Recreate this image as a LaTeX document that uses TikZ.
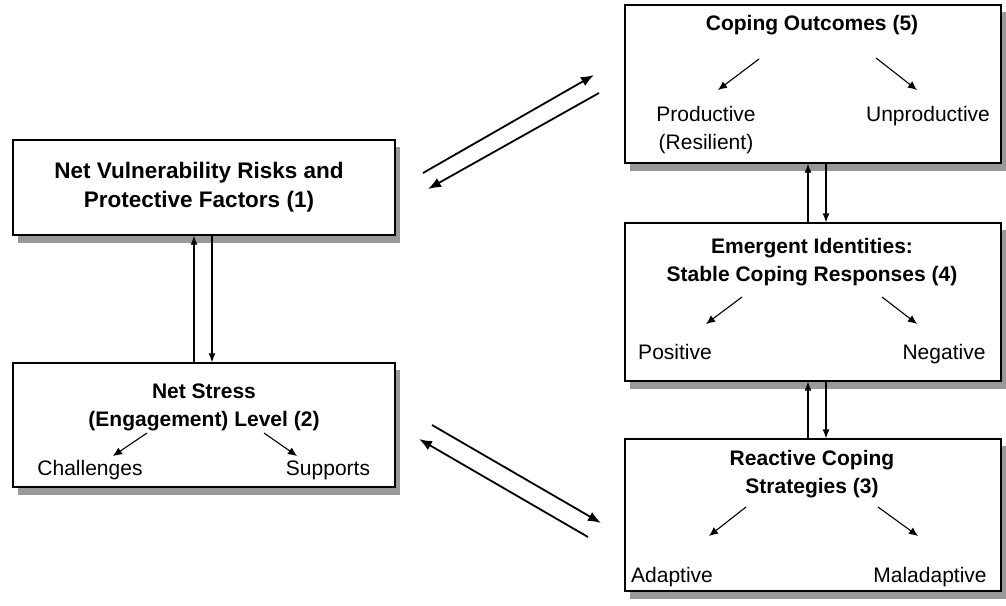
\documentclass[tikz,border=0pt]{standalone}
\usepackage{fontspec}
\setmainfont{Liberation Sans}
\usetikzlibrary{arrows.meta,calc}
\begin{document}
\begin{tikzpicture}[x=1pt,y=-1pt,
  box/.style={draw=black,line width=1.3pt,fill=white,inner sep=0pt},
  shadowbox/.style={fill=black!40,draw=none},
  title/.style={font=\fontsize{21}{28}\selectfont\bfseries,align=center,inner sep=0pt},
  item/.style={font=\fontsize{21}{28}\selectfont,align=center,inner sep=0pt,anchor=base},
  subarrow/.style={line width=1.1pt,-{Latex[length=9pt,width=8pt]}},
  vertarrow/.style={line width=1.2pt,-{Latex[length=9pt,width=7pt]}},
  bigarrow/.style={line width=1.8pt,-{Latex[length=13pt,width=10pt]}}]
\useasboundingbox (0,0) rectangle (1006,605);
% shadows
\fill[shadowbox] (18,147) rectangle (400,243);
\fill[shadowbox] (18,370) rectangle (400,495);
\fill[shadowbox] (630,12) rectangle (1006,171);
\fill[shadowbox] (630,230) rectangle (1006,389);
\fill[shadowbox] (630,446) rectangle (1006,599);
% boxes
\node[box,minimum width=382pt,minimum height=95pt] (b1) at (204,187.5) {};
\node[box,minimum width=382pt,minimum height=124pt] (b2) at (204,425) {};
\node[box,minimum width=376pt,minimum height=158pt] (b5) at (813,84) {};
\node[box,minimum width=376pt,minimum height=158pt] (b4) at (813,302) {};
\node[box,minimum width=376pt,minimum height=152pt] (b3) at (813,515) {};
% titles
\node[title,font=\fontsize{22.5}{29}\selectfont\bfseries] (t1) at (199,187.5) {Net Vulnerability Risks and\\Protective Factors (1)};
\node[title] (t2) at (204,407) {Net Stress\\(Engagement) Level (2)};
\node[title] (t5) at (812,25) {Coping Outcomes (5)};
\node[title] (t4) at (812,262) {Emergent Identities:\\Stable Coping Responses (4)};
\node[title] (t3) at (812,474.5) {Reactive Coping\\Strategies (3)};
% items
\node[item] (challenges) at (90,475) {Challenges};
\node[item] (supports) at (328,475) {Supports};
\node[item] (productive) at (706,149) {Productive\\(Resilient)};
\node[item] (unproductive) at (928,121) {Unproductive};
\node[item] (positive) at (675,359) {Positive};
\node[item] (negative) at (944,359) {Negative};
\node[item] (adaptive) at (672,582) {Adaptive};
\node[item] (maladaptive) at (930,582) {Maladaptive};
% sub-arrow coordinates
\coordinate (s5l) at (759,59); \coordinate (e5l) at (718,90);
\coordinate (s5r) at (876,58); \coordinate (e5r) at (917,90);
\coordinate (s4l) at (742,297); \coordinate (e4l) at (706,324);
\coordinate (s4r) at (882,297); \coordinate (e4r) at (917,324);
\coordinate (s3l) at (746,507); \coordinate (e3l) at (709,536);
\coordinate (s3r) at (878,507); \coordinate (e3r) at (918,536);
\coordinate (s2l) at (147,433); \coordinate (e2l) at (113,456);
\coordinate (s2r) at (264,433); \coordinate (e2r) at (297,456);
\draw[subarrow] (s5l) -- (e5l);
\draw[subarrow] (s5r) -- (e5r);
\draw[subarrow] (s4l) -- (e4l);
\draw[subarrow] (s4r) -- (e4r);
\draw[subarrow] (s3l) -- (e3l);
\draw[subarrow] (s3r) -- (e3r);
\draw[subarrow] (s2l) -- (e2l);
\draw[subarrow] (s2r) -- (e2r);
% vertical arrows
\draw[vertarrow] (b2.north -| 194,0) -- (b1.south -| 194,0);
\draw[vertarrow] (b1.south -| 212,0) -- (b2.north -| 212,0);
\draw[vertarrow] (b4.north -| 808,0) -- (b5.south -| 808,0);
\draw[vertarrow] (b5.south -| 826,0) -- (b4.north -| 826,0);
\draw[vertarrow] (b3.north -| 808,0) -- (b4.south -| 808,0);
\draw[vertarrow] (b4.south -| 826,0) -- (b3.north -| 826,0);
% diagonal arrows
\coordinate (d1a) at (423,173); \coordinate (d1b) at (594,75);
\coordinate (d2a) at (599,93); \coordinate (d2b) at (428,189);
\coordinate (d3a) at (432,425); \coordinate (d3b) at (601,523);
\coordinate (d4a) at (588,537); \coordinate (d4b) at (419,439);
\draw[bigarrow] (d1a) -- (d1b);
\draw[bigarrow] (d2a) -- (d2b);
\draw[bigarrow] (d3a) -- (d3b);
\draw[bigarrow] (d4a) -- (d4b);
\end{tikzpicture}
\end{document}
